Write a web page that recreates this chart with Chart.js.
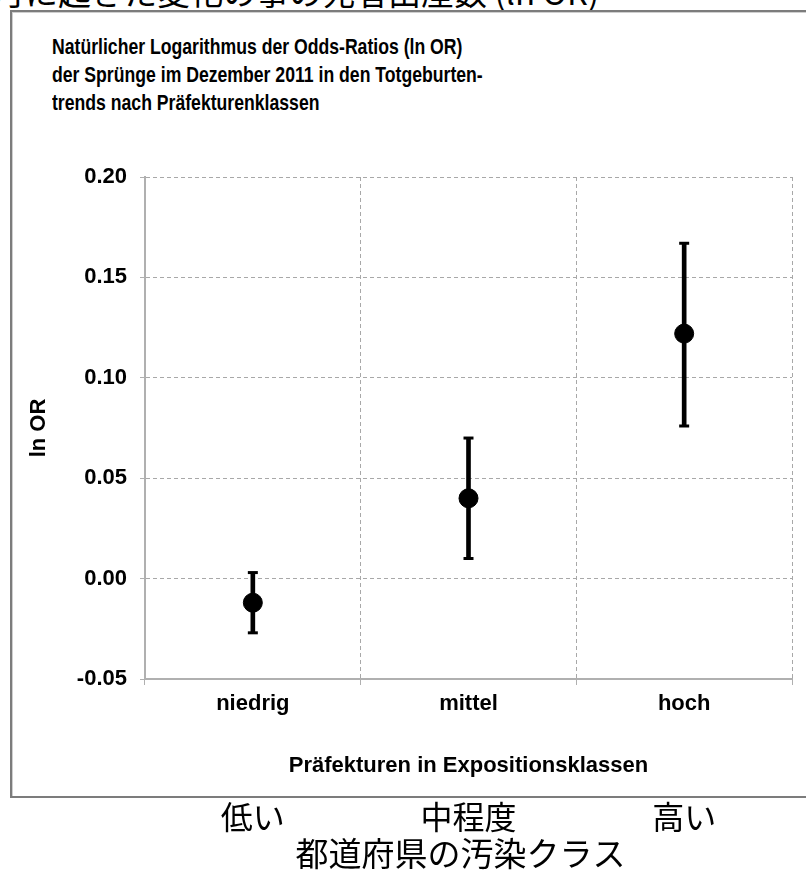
<!DOCTYPE html>
<html>
<head>
<meta charset="utf-8">
<script src="https://cdn.jsdelivr.net/npm/chart.js@4"></script>
<style>
    body { margin: 0; background: #fff; }
    #wrap { position: relative; width: 806px; height: 871px; overflow: hidden; }
    #jpTop {
        position: absolute; left: -8px; top: -25px; white-space: nowrap;
        font: 33px/33px "Noto Sans CJK JP", sans-serif; color: #000;
    }
    #frame {
        position: absolute; left: 10px; top: 10px; width: 830px; height: 784px;
        border: 2px solid #7c7c7c; box-shadow: inset 1px 1px 0 #cfcfcf;
    }
    #title {
        position: absolute; left: 52px; top: 33px; white-space: nowrap;
        font: bold 21.5px/28px "Liberation Sans", Arial, sans-serif; color: #000;
        transform: scaleX(0.82); transform-origin: left top;
    }
    canvas { position: absolute; left: 0; top: 0; }
</style>
</head>
<body>
<div id="wrap">
    <div id="jpTop">月に起きた変化の事の死者出産数 (ln OR)</div>
    <div id="frame"></div>
    <div id="title">
        Natürlicher Logarithmus der Odds-Ratios (ln OR)<br>
        der Sprünge im Dezember 2011 in den Totgeburten-<br>
        trends nach Präfekturenklassen
    </div>
    <canvas id="chart" width="806" height="871"></canvas>
</div>
<script>
// data
const categories = ["niedrig", "mittel", "hoch"];
const categoriesJa = ["低い", "中程度", "高い"];
const lnOR = [-0.012, 0.040, 0.122];
const ciLower = [-0.027, 0.010, 0.076];
const ciUpper = [0.003, 0.070, 0.167];
const yTicks = [-0.05, 0.00, 0.05, 0.10, 0.15, 0.20];

const labelFont = { family: "Liberation Sans", size: 22, weight: "bold" };

// Japanese labels under the frame, placed with the x scale
const jpLabels = {
    id: "jpLabels",
    afterDraw(chart) {
        const ctx = chart.ctx;
        const x = chart.scales.x;
        ctx.save();
        ctx.fillStyle = "#000";
        ctx.textAlign = "center";
        ctx.textBaseline = "middle";
        ctx.font = '32px "Noto Sans CJK JP"';
        categoriesJa.forEach((t, i) => {
            ctx.fillText(t, x.getPixelForValue(i), 817);
        });
        ctx.font = '33px "Noto Sans CJK JP"';
        ctx.fillText("都道府県の汚染クラス", (x.left + x.right) / 2 - 8, 853);
        ctx.restore();
    }
};

new Chart(document.getElementById("chart"), {
    type: "line",
    data: {
        labels: categories,
        datasets: [
            {
                label: "ln OR",
                data: lnOR,
                showLine: false,
                pointRadius: 9.5,
                pointHoverRadius: 9.5,
                pointBackgroundColor: "#000",
                pointBorderColor: "#000",
                order: 0
            },
            {
                label: "obere Grenze",
                data: ciUpper,
                showLine: false,
                pointStyle: "line",
                pointRadius: 5,
                pointBorderWidth: 3,
                pointBorderColor: "#000",
                order: 1
            },
            {
                label: "untere Grenze",
                data: ciLower,
                showLine: false,
                pointStyle: "line",
                pointRadius: 5,
                pointBorderWidth: 3,
                pointBorderColor: "#000",
                order: 1
            },
            {
                type: "bar",
                label: "Konfidenzintervall",
                data: categories.map((c, i) => [ciLower[i], ciUpper[i]]),
                backgroundColor: "#000",
                barThickness: 4,
                order: 2
            }
        ]
    },
    options: {
        responsive: false,
        animation: false,
        layout: { padding: { left: 26, top: 177, right: 14, bottom: 92 } },
        plugins: {
            legend: { display: false },
            tooltip: { enabled: false }
        },
        scales: {
            x: {
                offset: true,
                grid: { offset: true, color: "#a8a8a8", tickLength: 6, tickColor: "#b0b0b0" },
                border: { color: "#b0b0b0", width: 2, dash: [4, 3] },
                ticks: { color: "#000", font: labelFont, padding: 6 },
                title: {
                    display: true,
                    text: "Präfekturen in Expositionsklassen",
                    color: "#000",
                    font: labelFont,
                    padding: 0
                },
                afterFit: s => { s.height = 100; }
            },
            y: {
                min: -0.05,
                max: 0.20,
                grid: { color: "#a8a8a8", tickLength: 5, tickColor: "#b0b0b0" },
                border: { color: "#b0b0b0", width: 2, dash: [4, 3] },
                afterBuildTicks: s => { s.ticks = yTicks.map(v => ({ value: v })); },
                ticks: {
                    color: "#000",
                    font: labelFont,
                    padding: 13,
                    callback: v => v.toFixed(2)
                },
                title: {
                    display: true,
                    text: "ln OR",
                    color: "#000",
                    font: labelFont,
                    padding: 0
                },
                afterFit: s => { s.width = 119; }
            }
        }
    },
    plugins: [jpLabels]
});
</script>
</body>
</html>
